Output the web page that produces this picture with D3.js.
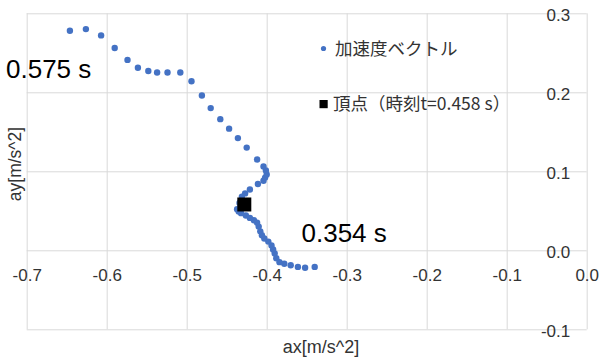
<!DOCTYPE html>
<html><head><meta charset="utf-8">
<script src="https://cdn.jsdelivr.net/npm/d3@7"></script>
<style>
html,body{margin:0;padding:0;background:#fff;}
svg{display:block;}
</style></head>
<body>
<svg id="chart" width="601" height="358"></svg>
<script>
// ---- data ----
const ax = [-0.340,-0.352,-0.361,-0.370,-0.378,-0.384,-0.388,-0.390,-0.392,-0.394,-0.398,-0.403,-0.406,-0.408,-0.410,-0.412,-0.416,-0.421,-0.426,-0.432,-0.435,-0.437,-0.434,-0.431,-0.427,-0.421,-0.411,-0.404,-0.402,-0.400,-0.401,-0.404,-0.412,-0.425,-0.436,-0.447,-0.458,-0.470,-0.481,-0.494,-0.508,-0.524,-0.537,-0.548,-0.561,-0.574,-0.590,-0.607,-0.626,-0.646];
const ay = [-0.021,-0.022,-0.021,-0.019,-0.017,-0.015,-0.010,-0.004,0.001,0.006,0.011,0.015,0.019,0.024,0.030,0.035,0.038,0.041,0.044,0.047,0.049,0.052,0.060,0.068,0.072,0.077,0.084,0.088,0.092,0.096,0.101,0.106,0.115,0.130,0.142,0.154,0.166,0.180,0.196,0.214,0.225,0.225,0.225,0.227,0.231,0.241,0.256,0.272,0.280,0.278];
const vertexX = [-0.428];
const vertexY = [0.058];
const xTicks = [-0.7,-0.6,-0.5,-0.4,-0.3,-0.2,-0.1,0.0];
const xTickLabels = ["-0.7","-0.6","-0.5","-0.4","-0.3","-0.2","-0.1","0.0"];
const yTicks = [-0.1,0.0,0.1,0.2,0.3];
const yTickLabels = ["-0.1","0.0","0.1","0.2","0.3"];
const seriesNames = ["加速度ベクトル","頂点（時刻t=0.458 s）"];
const annotations = [{text:"0.575 s", i:49}, {text:"0.354 s", i:0}];

// ---- chart ----
const svg = d3.select("#chart");
const x = d3.scaleLinear().domain([-0.7, 0]).range([26.7, 586.7]);
const y = d3.scaleLinear().domain([-0.1, 0.3]).range([329.3, 13.3]);
const gridColor = "#d9d9d9";
const textColor = "#333";
const tickFont = "Liberation Sans, Arial, sans-serif";

// vertical gridlines
svg.append("g")
  .attr("transform", `translate(0,${y(-0.1)})`)
  .call(d3.axisBottom(x).tickValues(xTicks).tickSize(-(y(-0.1) - y(0.3))).tickFormat(""))
  .call(g => g.select(".domain").remove())
  .call(g => g.selectAll("line").attr("stroke", gridColor).attr("stroke-width", 1));

// horizontal gridlines
svg.append("g")
  .attr("transform", `translate(${x(-0.7)},0)`)
  .call(d3.axisLeft(y).tickValues(yTicks).tickSize(-(x(0) - x(-0.7))).tickFormat(""))
  .call(g => g.select(".domain").remove())
  .call(g => g.selectAll("line").attr("stroke", gridColor).attr("stroke-width", 1));

// x tick labels (axis crosses at y=0)
svg.append("g")
  .attr("transform", `translate(0,${y(0)})`)
  .call(d3.axisBottom(x).tickValues(xTicks).tickSize(0).tickPadding(19)
        .tickFormat((d, i) => xTickLabels[i]))
  .call(g => g.select(".domain").remove())
  .call(g => g.selectAll("text").attr("fill", textColor)
        .style("font-family", tickFont).style("font-size", "17px"));

// y tick labels (axis crosses at x=0)
svg.append("g")
  .attr("transform", `translate(${x(0)},0)`)
  .call(d3.axisLeft(y).tickValues(yTicks).tickSize(0).tickPadding(16.5)
        .tickFormat((d, i) => yTickLabels[i]))
  .call(g => g.select(".domain").remove())
  .call(g => g.selectAll("text").attr("fill", textColor).attr("dy", "0.45em")
        .style("font-family", tickFont).style("font-size", "17px"));

// axis titles
svg.append("text")
  .attr("x", 321).attr("y", 353)
  .attr("text-anchor", "middle")
  .attr("fill", textColor)
  .style("font-family", tickFont).style("font-size", "18px")
  .text("ax[m/s^2]");
svg.append("text")
  .attr("transform", "translate(21,164) rotate(-90)")
  .attr("text-anchor", "middle")
  .attr("fill", textColor)
  .style("font-family", tickFont).style("font-size", "17.5px")
  .text("ay[m/s^2]");

// data points
const pts = ax.map((v, i) => ({x: v, y: ay[i]}));
svg.append("g").selectAll("circle")
  .data(pts).join("circle")
  .attr("cx", d => x(d.x)).attr("cy", d => y(d.y))
  .attr("r", 3.2).attr("fill", "#4472C4");

// vertex square
const sq = 14;
svg.append("g").selectAll("rect")
  .data(vertexX.map((v, i) => ({x: v, y: vertexY[i]}))).join("rect")
  .attr("x", d => x(d.x) - sq / 2).attr("y", d => y(d.y) - sq / 2)
  .attr("width", sq).attr("height", sq).attr("fill", "#000");

// time annotations
svg.append("text")
  .attr("x", 6).attr("y", 78)
  .attr("fill", "#000")
  .style("font-family", tickFont).style("font-size", "26px")
  .text(annotations[0].text);
svg.append("text")
  .attr("x", 301.5).attr("y", 242)
  .attr("fill", "#000")
  .style("font-family", tickFont).style("font-size", "26px")
  .text(annotations[1].text);

// legend
const legendFont = "Noto Sans CJK JP, sans-serif";
svg.append("circle").attr("cx", 323.5).attr("cy", 48.5).attr("r", 2.6).attr("fill", "#4472C4");
svg.append("text").attr("x", 335).attr("y", 54.5)
  .attr("fill", textColor).style("font-family", legendFont).style("font-size", "17.5px")
  .text(seriesNames[0]);
svg.append("rect").attr("x", 319.5).attr("y", 100).attr("width", 8.2).attr("height", 8.2).attr("fill", "#000");
svg.append("text").attr("x", 333).attr("y", 110)
  .attr("fill", textColor).style("font-family", legendFont).style("font-size", "17.5px")
  .text(seriesNames[1]);
</script>
</body></html>
